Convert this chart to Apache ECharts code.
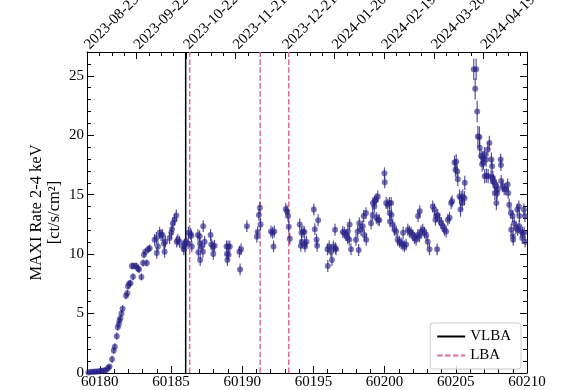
<!DOCTYPE html>
<html><head><meta charset="utf-8">
<script src="https://cdn.jsdelivr.net/npm/echarts@6/dist/echarts.min.js"></script>
<style>html,body{margin:0;padding:0;background:#fff}#c{width:585px;height:390px}</style>
</head><body><div id="c"></div>
<script>
// ---- data ----
const mjd = [
  60179.20,60179.35,60179.50,60179.62,60179.75,60179.88,60180.00,60180.12,60180.25,60180.38,60180.50,60180.60,60180.68,
  60180.86,60180.98,60181.05,60181.19,60181.26,60181.33,60181.38,60181.44,60181.52,60181.60,60181.84,60181.93,60181.98,60182.06,60182.15,60182.25,60182.33,60182.40,60182.55,60182.68,60182.75,60182.92,60183.04,60183.10,60183.20,60183.30,60183.40,60183.50,
  60183.85,60183.97,60184.00,60184.08,60184.20,60184.30,60184.40,60184.50,60184.55,60184.60,60184.90,60185.02,60185.07,60185.13,60185.25,60185.37,60185.40,60185.48,60185.60,60185.85,60185.90,60185.95,60186.05,60186.20,60186.22,60186.38,60186.43,60186.46,
  60186.89,60186.92,60187.01,60187.03,60187.05,60187.13,60187.24,60187.26,60187.36,60187.78,60187.83,60187.94,60187.97,60188.06,60188.90,60188.93,60188.96,60189.01,60189.04,60189.13,60189.80,60189.85,60189.92,60190.33,
  60191.03,60191.08,60191.17,60191.24,60191.29,60192.02,60192.13,60192.20,60192.25,60193.06,60193.15,60193.22,60193.27,60193.34,60194.04,60194.12,60194.16,60194.18,60194.27,60194.37,60194.39,60194.41,60194.51,
  60195.03,60195.10,60195.22,60195.26,60195.33,60195.99,60196.01,60196.11,60196.23,60196.30,60196.40,60196.52,60196.54,60196.59,60197.06,60197.17,60197.29,60197.40,60197.42,60197.52,60197.54,60197.64,
  60197.99,60198.11,60198.18,60198.22,60198.34,60198.46,60198.53,60198.58,60198.69,60198.71,60199.05,60199.16,60199.18,60199.28,60199.30,60199.40,60199.42,60199.52,60199.54,60199.63,60199.99,60200.01,
  60200.11,60200.22,60200.34,60200.36,60200.38,60200.46,60200.48,60200.57,60200.69,60200.81,60200.92,60201.04,60201.16,60201.28,60201.30,60201.39,60201.51,60201.63,60201.74,60201.86,60201.98,60202.10,60202.21,60202.33,60202.35,60202.45,60202.47,
  60202.56,60202.68,60202.80,60202.92,60203.03,60203.15,60203.38,60203.50,60203.57,60203.62,60203.69,60203.73,60203.85,60203.97,60204.09,60204.20,60204.32,60204.44,60204.56,60204.67,60204.74,
  60204.91,60204.98,60205.03,60205.10,60205.14,60205.26,60205.33,60205.38,60205.45,60205.49,60205.61,60205.63,
  60206.26,60206.36,60206.43,60206.50,60206.55,60206.66,60206.68,
  60206.78,60206.85,60206.90,60206.94,60207.01,60207.03,60207.13,60207.15,60207.25,60207.27,60207.36,60207.48,60207.50,60207.55,60207.60,60207.62,60207.72,60207.74,60207.83,60207.85,60207.90,60207.95,
  60208.15,60208.17,60208.19,60208.29,60208.40,60208.52,60208.64,60208.68,60208.75,60208.87,60208.89,60208.99,60209.01,60209.03,60209.10,60209.22,60209.32,60209.34,60209.43,60209.45,60209.47,60209.57,60209.67,60209.69,60209.78,60209.80,60209.85,60209.87
];
const rate = [
  0.05,0.10,0.08,0.12,0.10,0.15,0.12,0.18,0.20,0.22,0.30,0.45,0.55,
  1.15,1.90,2.20,3.10,3.85,4.10,4.40,4.60,5.00,5.40,6.50,6.70,7.30,7.50,7.55,9.00,8.10,9.00,9.00,8.80,8.70,8.07,9.25,9.95,10.20,9.25,10.40,10.50,
  11.20,11.35,10.10,10.65,11.80,11.60,11.60,10.90,10.20,11.05,11.35,11.80,12.10,12.60,12.90,13.25,11.05,11.20,11.05,10.65,10.40,10.80,11.05,10.90,11.80,11.70,11.55,10.65,
  11.60,10.15,11.50,10.90,9.50,10.65,10.20,12.35,11.05,11.60,10.80,10.65,10.00,10.70,10.65,10.00,9.50,10.65,9.95,10.65,10.20,8.70,10.40,12.35,
  11.45,11.85,13.30,13.90,12.50,11.90,11.80,10.65,11.90,13.80,13.60,13.20,12.30,11.30,12.50,10.70,11.80,11.05,11.90,11.85,10.90,10.65,11.05,
  13.75,12.10,11.20,10.70,12.85,10.40,9.00,10.65,10.20,9.50,10.65,12.05,10.50,10.40,11.85,11.80,11.60,11.35,11.90,11.20,12.50,10.40,
  11.20,11.90,10.35,12.60,12.05,12.35,13.20,11.60,13.45,11.20,12.60,13.30,14.30,14.00,14.45,14.60,13.05,14.85,12.90,12.85,16.80,16.05,
  14.30,14.15,14.30,13.45,12.75,14.30,13.30,12.50,12.05,11.90,11.20,11.05,10.90,10.80,11.80,10.65,10.80,12.05,11.90,11.80,11.60,11.35,11.20,11.60,13.20,11.50,13.60,
  11.90,12.05,11.80,11.60,11.05,10.40,14.00,13.75,12.90,13.20,10.40,13.30,12.90,12.60,12.35,12.05,11.90,12.90,13.05,14.30,14.45,
  17.70,17.10,17.80,16.95,16.30,14.85,13.75,14.70,14.30,14.85,14.70,16.00,
  25.55,23.90,25.55,22.00,19.90,19.85,18.95,
  18.25,17.55,18.10,17.70,18.40,16.55,17.95,16.60,18.80,16.55,19.35,16.50,17.95,17.40,16.40,16.15,16.00,15.15,15.70,14.30,15.15,15.45,
  17.95,17.50,16.15,15.70,15.45,15.45,15.85,15.15,14.15,13.45,12.05,13.20,11.50,11.20,12.60,12.20,13.75,12.05,14.00,12.35,13.20,11.90,11.35,11.80,13.75,11.80,13.20,11.05
];
// error-bar half-length, read per stretch of the light curve: [from MJD, error]
const errLevels = [[60179.0,0.15],[60180.8,0.3],[60183.8,0.5],[60204.85,0.6],[60206.2,0.9],[60206.75,0.6],[60208.1,0.5]];
const vlbaEpochs = [60186.03];
const lbaEpochs = [60186.31, 60191.26, 60193.27];
const xTickValues = [60180, 60185, 60190, 60195, 60200, 60205, 60210];
const yTickValues = [0, 5, 10, 15, 20, 25];
const topLabels = ['2023-08-23','2023-09-22','2023-10-22','2023-11-21','2023-12-21','2024-01-20','2024-02-19','2024-03-20','2024-04-19'];

// ---- chart ----
const XMIN = 60179.1, XMAX = 60210, YMIN = 0, YMAX = 27;
const TOPMAX = 8.88;
const FONT = 'Liberation Serif';
const PT = 'rgba(40,34,135,0.78)';

function errFor(x){ let e = errLevels[0][1]; for (const [s,v] of errLevels) if (x >= s) e = v; return e; }
const xMinor = []; for (let v = 60180; v <= 60210; v++) if (v % 5) xMinor.push(v);
const yMinor = []; for (let v = 0; v <= 27; v++) if (v % 5) yMinor.push(v);
const topMajor = topLabels.map((_, i) => i);
const topMinor = []; for (let v = 0.25; v < TOPMAX; v += 0.25) if (Math.abs(v - Math.round(v)) > 1e-6) topMinor.push(+v.toFixed(2));

const line = {show:true, onZero:false, lineStyle:{color:'#000', width:1}};
const noLine = {show:false, onZero:false};
function valAxis(extra){ return Object.assign({type:'value', splitLine:{show:false}}, extra); }
const lbl = {fontFamily:FONT, fontSize:15, color:'#000'};

const chart = echarts.init(document.getElementById('c'), null, {renderer:'canvas'});
const scatterData = mjd.map((x,i)=>[x, rate[i]]);
const errData = mjd.map((x,i)=>[x, rate[i]-errFor(x), rate[i]+errFor(x)]);

const series = [
  {type:'custom', xAxisIndex:0, yAxisIndex:0, data:errData, silent:true, z:3,
   encode:{x:0, y:[1,2]},
   renderItem:function(params, api){
     const a = api.coord([api.value(0), api.value(1)]);
     const b = api.coord([api.value(0), api.value(2)]);
     return {type:'line', shape:{x1:a[0], y1:a[1], x2:b[0], y2:b[1]}, style:{stroke:PT, lineWidth:1.2}};
   }},
  {type:'scatter', xAxisIndex:0, yAxisIndex:0, data:scatterData, symbol:'circle', symbolSize:6, z:4,
   itemStyle:{color:PT}},
  ...vlbaEpochs.map(x=>({type:'line', name:'VLBA', xAxisIndex:0, yAxisIndex:0, data:[[x,YMIN],[x,YMAX]],
     symbol:'none', z:2, lineStyle:{color:'#000', width:1.5}, itemStyle:{color:'#000'}})),
  ...lbaEpochs.map(x=>({type:'line', name:'LBA', xAxisIndex:0, yAxisIndex:0, data:[[x,YMIN],[x,YMAX]],
     symbol:'none', z:2, lineStyle:{color:'#db7093', width:1.5, type:[5.5,2.4]}, itemStyle:{color:'#db7093'}}))
];

chart.setOption({
  animation:false,
  backgroundColor:'#fff',
  grid:{left:87, right:58, top:52, bottom:17, containLabel:false, outerBoundsMode:'none'},
  xAxis:[
    valAxis({position:'bottom', min:XMIN, max:XMAX, axisLine:line,
      axisTick:{show:true, inside:true, length:7, customValues:xTickValues, lineStyle:{color:'#000'}},
      axisLabel:Object.assign({show:true, customValues:xTickValues, margin:2, formatter:v=>String(v)}, lbl)}),
    valAxis({position:'bottom', min:XMIN, max:XMAX, axisLine:noLine,
      axisTick:{show:true, inside:true, length:4, customValues:xMinor, lineStyle:{color:'#000'}},
      axisLabel:{show:false}}),
    valAxis({position:'top', min:0, max:TOPMAX, axisLine:line,
      axisTick:{show:true, inside:true, length:7, customValues:topMajor, lineStyle:{color:'#000'}},
      axisLabel:Object.assign({show:true, customValues:topMajor, rotate:-45, margin:5,
        formatter:v=>topLabels[Math.round(v)] || ''}, lbl)}),
    valAxis({position:'top', min:0, max:TOPMAX, axisLine:noLine,
      axisTick:{show:true, inside:true, length:4, customValues:topMinor, lineStyle:{color:'#000'}},
      axisLabel:{show:false}})
  ],
  yAxis:[
    valAxis({position:'left', min:YMIN, max:YMAX, axisLine:line,
      axisTick:{show:true, inside:true, length:7, customValues:yTickValues, lineStyle:{color:'#000'}},
      axisLabel:Object.assign({show:true, customValues:yTickValues, margin:3}, lbl),
      name:'MAXI Rate 2-4 keV\n[ct/s/cm²]', nameLocation:'middle', nameRotate:90, nameGap:23, nameMoveOverlap:false,
      nameTextStyle:{fontFamily:FONT, fontSize:16.5, color:'#000', lineHeight:18}}),
    valAxis({position:'left', min:YMIN, max:YMAX, axisLine:noLine,
      axisTick:{show:true, inside:true, length:4, customValues:yMinor, lineStyle:{color:'#000'}},
      axisLabel:{show:false}}),
    valAxis({position:'right', min:YMIN, max:YMAX, axisLine:line,
      axisTick:{show:true, inside:true, length:7, customValues:yTickValues, lineStyle:{color:'#000'}},
      axisLabel:{show:false}}),
    valAxis({position:'right', min:YMIN, max:YMAX, axisLine:noLine,
      axisTick:{show:true, inside:true, length:4, customValues:yMinor, lineStyle:{color:'#000'}},
      axisLabel:{show:false}})
  ],
  legend:{data:['VLBA','LBA'], orient:'vertical', right:64, bottom:21, itemWidth:28, itemHeight:12, itemGap:4,
    padding:[6,10,6,6], borderColor:'#cccccc', borderWidth:1, borderRadius:3, backgroundColor:'rgba(255,255,255,0.85)',
    itemStyle:{opacity:0},
    textStyle:{fontFamily:FONT, fontSize:15, color:'#000'}, selectedMode:false},
  series:series
});
</script></body></html>
